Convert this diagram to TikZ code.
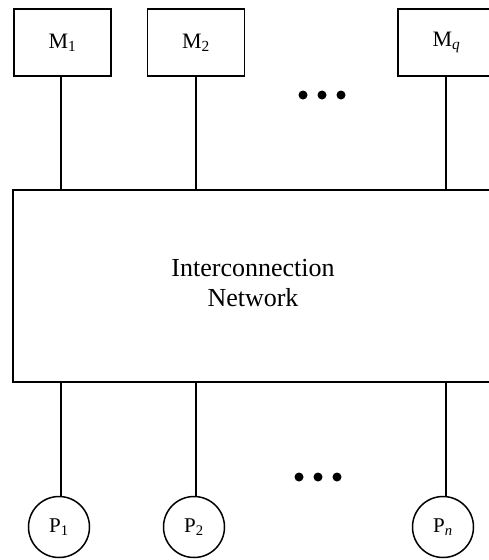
\documentclass[tikz,border=0pt]{standalone}
\usepackage{fontspec}
\setmainfont{Liberation Serif}
\begin{document}
\begin{tikzpicture}[x=1pt,y=-1pt,
  mem/.style={draw,line width=1.6pt,minimum width=97pt,minimum height=67pt,inner sep=0pt,font=\fontsize{22}{24}\selectfont},
  proc/.style={draw,circle,line width=1.5pt,minimum size=61pt,inner sep=0pt,font=\fontsize{21}{24}\selectfont},
  net/.style={draw,line width=1.6pt,minimum width=520pt,minimum height=192pt,inner sep=0pt},
  lbltext/.style={font=\fontsize{26}{30}\selectfont,align=center},
  link/.style={line width=1.5pt},
  dot/.style={circle,fill=black,inner sep=0pt,minimum size=9pt}]
\useasboundingbox (0,0) rectangle (489,560);
\clip (0,0) rectangle (489,560);
\node[mem] (m1) at (62.5,42.5) {M\textsubscript{1}};
\node[mem] (m2) at (196,42.5) {M\textsubscript{2}};
\node[mem] (mq) at (446.5,42.5) {M\textsubscript{\textit{q}}};
\node[net] (net) at (273,286) {};
\node[lbltext] (lbl) at (253,283) {Interconnection\\Network};
\node[proc] (p1) at (59,527) {P\textsubscript{1}};
\node[proc] (p2) at (194,527) {P\textsubscript{2}};
\node[proc] (pn) at (443,527) {P\textsubscript{\textit{n}}};
\coordinate (t1) at (61,190);
\coordinate (t2) at (196,190);
\coordinate (tq) at (446,190);
\coordinate (b1) at (61,382);
\coordinate (b2) at (196,382);
\coordinate (bn) at (446,382);
\draw[link] (m1.south -| t1) -- (t1);
\draw[link] (m2.south -| t2) -- (t2);
\draw[link] (mq.south -| tq) -- (tq);
\draw[link] (b1) -- (p1.north -| b1);
\draw[link] (b2) -- (p2.north -| b2);
\draw[link] (bn) -- (pn.north -| bn);
\node[dot] (d1) at (303,95) {};
\node[dot] (d2) at (322,95) {};
\node[dot] (d3) at (341,95) {};
\node[dot] (e1) at (299,477) {};
\node[dot] (e2) at (318,477) {};
\node[dot] (e3) at (337,477) {};
\end{tikzpicture}
\end{document}
